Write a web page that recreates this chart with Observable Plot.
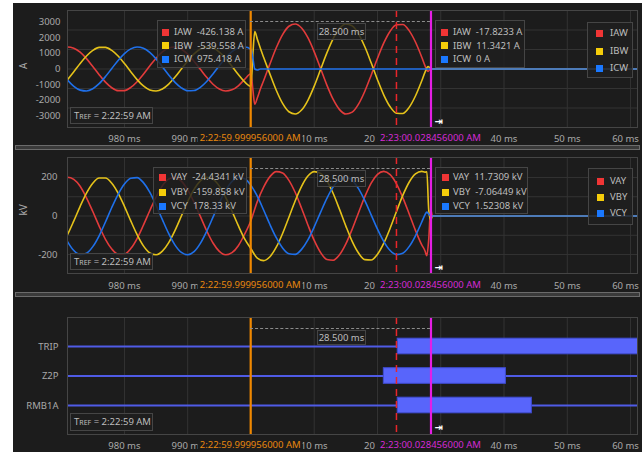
<!DOCTYPE html>
<html>
<head>
<meta charset="utf-8">
<script src="https://cdn.jsdelivr.net/npm/d3@7"></script>
<script src="https://cdn.jsdelivr.net/npm/@observablehq/plot@0.6"></script>
<style>
  html, body { margin:0; padding:0; background:#ffffff; }
  body { position:relative; width:642px; height:452px; overflow:hidden; font-family:"Noto Sans","Open Sans",sans-serif; }
  #bg { position:absolute; left:13px; top:3px; width:629px; height:449px; background:#1c1c1c; }
  .panel { position:absolute; left:13px; }
  .scroll { position:absolute; left:15px; width:623px; height:3px; border:1px solid #6b6b6b; background:#3a3a3a; }
  .box { position:absolute; box-sizing:border-box; border:1px solid #454545; background:rgba(30,30,30,0.82); color:#bdbdbd; font-size:9.5px; white-space:pre; }
  .row { position:absolute; line-height:12px; }
  .sq { position:absolute; width:7px; height:7px; }
  .cur { position:absolute; font-size:9.5px; line-height:13px; background:#1c1c1c; padding:0 2px; transform:translateX(-50%); white-space:nowrap; }
  .dots { position:absolute; height:0; border-top:1px dashed #8c8c8c; }
  .arrow { position:absolute; color:#fff; font-size:10px; font-family:"DejaVu Sans",sans-serif; line-height:10px; font-weight:bold; }
  .small { font-size:7px; }
</style>
</head>
<body>
<div id="bg"></div>
<script>
// ---------------- data ----------------
// time axis in ms relative to 2:23:00 (0 ms)
const tCur = [-30,-29,-28,-27,-26,-25,-24,-23,-22,-21,-20,-19,-18,-17,-16,-15,-14,-13,-12,-11,-10,-9,-8,-7,-6,-5,-4,-3,-2,-1,0,
  0.3,0.6,1,1.5,2,
  3,4,5,6,7,8,9,10,11,12,13,14,15,16,17,18,19,20,21,22,23,24,25,26,27,
  27.5,28,28.3,28.6,62];
const iaw = [1274,1398,1326,1068,659,158,-365,-837,-1191,-1378,-1372,-1173,-809,-332,192,689,1090,1337,1396,1259,946,499,-17,-531,-970,-1274,-1398,-1326,-1068,-659,-300,
  -1300,-2240,-1850,-1254,-748,
  325,1352,2190,2719,2866,2612,1989,1089,35,-1024,-1939,-2582,-2862,-2740,-2234,-1413,-394,680,1658,2404,2812,2826,2441,1715,748,
  215,-150,-20,0,0];
const ibw = [-1079,-674,-175,348,823,1182,1375,1375,1182,823,348,-175,-674,-1079,-1331,-1397,-1267,-959,-515,0,515,959,1267,1397,1331,1079,674,175,-348,-823,-1100,
  900,2380,1900,1300,748,
  -325,-1352,-2190,-2719,-2866,-2612,-1989,-1089,-35,1024,1939,2582,2862,2740,2234,1413,394,-680,-1658,-2404,-2812,-2826,-2441,-1715,-748,
  -215,150,80,0,0];
const icw = [-210,-704,-1100,-1342,-1395,-1252,-934,-483,34,547,983,1281,1399,1321,1057,644,141,-381,-850,-1200,-1381,-1368,-1163,-795,-315,210,704,1100,1342,1395,1252,
  700,0,-60,0,0,
  0,0,0,0,0,0,0,0,0,0,0,0,0,0,0,0,0,0,0,0,0,0,0,0,0,
  0,0,0,0,0];

const tVol = [-30,-29,-28,-27,-26,-25,-24,-23,-22,-21,-20,-19,-18,-17,-16,-15,-14,-13,-12,-11,-10,-9,-8,-7,-6,-5,-4,-3,-2,-1,0,
  1,2,3,4,5,6,7,8,9,10,11,12,13,14,15,16,17,18,19,20,21,22,23,24,25,26,27,
  27.5,27.8,28.1,28.4,28.7,62];
const vay = [182,200,189,153,94,23,-52,-120,-170,-197,-196,-168,-116,-47,27,98,156,191,199,180,135,71,-2,-76,-139,-182,-200,-189,-153,-94,-23,
  74,149,203,229,222,184,121,40,-46,-126,-188,-224,-228,-200,-144,-68,17,100,170,215,230,213,166,95,12,-74,-149,
  -179,-205,-120,35,0,0];
const vby = [-154,-96,-25,50,118,169,196,196,169,118,50,-25,-96,-154,-190,-200,-181,-137,-74,0,74,137,181,200,190,154,96,25,-50,-118,-169,
  -217,-230,-210,-161,-90,-6,79,153,206,229,220,181,116,34,-52,-131,-191,-225,-227,-197,-140,-63,23,106,174,217,230,
  226,228,30,-20,0,0];
const vcy = [-68,-132,-178,-199,-192,-158,-102,-31,44,112,165,195,198,172,123,56,-19,-91,-150,-188,-200,-184,-141,-79,-6,68,132,178,199,192,158,
  102,31,-44,-112,-165,-195,-198,-172,-123,-56,19,91,150,188,200,184,141,79,6,-68,-132,-178,-199,-192,-158,-102,-31,
  6,20,10,0,0,0];

const channels = ["TRIP", "Z2P", "RMB1A"];
const digOn  = [23.2, 21.0, 23.2];
const digOff = [62, 40.3, 44.4];

const xTicks = [-20,-10,0,10,20,30,40,50,60];
const xTickLabels = ["980 ms","990 ms","0 ms","10 ms","20 ms","30 ms","40 ms","50 ms","60 ms"];
const curTicks = [-3000,-2000,-1000,0,1000,2000,3000];
const volTicks = [-200,0,200];

const cursorA = -0.044, cursorB = 28.456, markerT = 23.0;
const cursorALabel = "2:22:59.999956000 AM";
const cursorBLabel = "2:23:00.028456000 AM";
const deltaLabel = "28.500 ms";
const trefTime = "2:22:59 AM";

const curNames = ["IAW","IBW","ICW"];
const curAtA = ["-426.138 A","-539.558 A","975.418 A"];
const curAtB = ["-17.8233 A","11.3421 A","0 A"];
const volNames = ["VAY","VBY","VCY"];
const volAtA = ["-24.4341 kV","-159.858 kV","178.33 kV"];
const volAtB = ["11.7309 kV","-7.06449 kV","1.52308 kV"];

// ---------------- styling ----------------
const FONT = '"Noto Sans","Open Sans",sans-serif';
const lineColors = ["#e23b3b", "#e5c21a", "#1f70ea"];
const sqColors = ["#f03535", "#f5cd0a", "#1a78ff"];
const ORANGE = "#f08800", MAGENTA = "#e41ee4", REDDASH = "#e8262a";
const GRID = "#333333", FRAME = "#454545", TEXT = "#a9a9a9";
const DIG = "#4f5be6", DIGFILL = "#5865fb", DIGSTROKE = "#3f4bd0";
const X_DOMAIN = [-29.0, 61.1];
const W = 629;

// tick labels that sit completely under a cursor time label are not drawn
const underCursor = t => Math.abs(t - cursorA) < 5 || Math.abs(t - cursorB) < 5;
const lastTick = xTicks[xTicks.length - 1];
const xTickRows = xTicks.map((t, i) => ({t, label: xTickLabels[i]})).filter(d => !underCursor(d.t));

function sixths([lo, hi]) { return d3.range(1, 6).map(k => lo + k * (hi - lo) / 6); }
function rows(ts, vals, name) { return ts.map((t, i) => ({t, v: vals[i], s: name})); }

function cursorMarks() {
  return [
    Plot.ruleX([markerT], {stroke: REDDASH, strokeWidth: 1.5, strokeDasharray: "7,5"}),
    Plot.ruleX([cursorA], {stroke: ORANGE, strokeWidth: 2.2}),
    Plot.ruleX([cursorB], {stroke: MAGENTA, strokeWidth: 2.2})
  ];
}

function xLabels(dy) {
  const common = {x: "t", text: "label", frameAnchor: "bottom", lineAnchor: "middle", dy, fill: TEXT};
  return [
    Plot.text(xTickRows.filter(d => d.t !== lastTick), common),
    Plot.text(xTickRows.filter(d => d.t === lastTick), {...common, dx: -5})
  ];
}

function panel({height, marginTop, marginBottom, y, marks, labelDy}) {
  return Plot.plot({
    width: W, height, marginLeft: 54, marginRight: 5, marginTop, marginBottom,
    style: {background: "transparent", color: TEXT, fontSize: "9.5px", fontFamily: FONT, overflow: "visible"},
    x: {domain: X_DOMAIN, axis: null},
    y,
    marks: [
      Plot.ruleX(xTicks, {stroke: GRID}),
      ...marks,
      Plot.frame({stroke: FRAME}),
      ...xLabels(labelDy)
    ]
  });
}

function place(svg, top) {
  const d = document.createElement("div");
  d.className = "panel"; d.style.top = top + "px";
  d.appendChild(svg); document.body.appendChild(d);
}

// ---------------- top panel: currents ----------------
const curDomain = [-3720, 3720];
const topPlot = panel({
  height: 142, marginTop: 7, marginBottom: 18, labelDy: 11,
  y: {domain: curDomain, ticks: curTicks, tickFormat: d => String(d), tickSize: 0, tickPadding: 7, label: null},
  marks: [
    Plot.ruleY(sixths(curDomain), {stroke: GRID}),
    Plot.line(rows(tCur, iaw, "IAW"), {x: "t", y: "v", stroke: lineColors[0], strokeWidth: 1.6, curve: "monotone-x", clip: true}),
    Plot.line(rows(tCur, ibw, "IBW"), {x: "t", y: "v", stroke: lineColors[1], strokeWidth: 1.6, curve: "monotone-x", clip: true}),
    Plot.line(rows(tCur, icw, "ICW"), {x: "t", y: "v", stroke: lineColors[2], strokeWidth: 1.6, curve: "monotone-x", clip: true}),
    ...cursorMarks(),
    Plot.text(["A"], {frameAnchor: "left", dx: -44, rotate: -90, text: d => d, fill: TEXT, fontSize: 10})
  ]
});
place(topPlot, 3);

// ---------------- middle panel: voltages ----------------
const volDomain = [-296.4, 301.6];
const midPlot = panel({
  height: 142, marginTop: 7, marginBottom: 19, labelDy: 12,
  y: {domain: volDomain, ticks: volTicks, tickFormat: d => String(d), tickSize: 0, tickPadding: 10, label: null},
  marks: [
    Plot.ruleY(sixths([-298, 298]), {stroke: GRID}),
    Plot.line(rows(tVol, vay, "VAY"), {x: "t", y: "v", stroke: lineColors[0], strokeWidth: 1.6, curve: "monotone-x", clip: true}),
    Plot.line(rows(tVol, vby, "VBY"), {x: "t", y: "v", stroke: lineColors[1], strokeWidth: 1.6, curve: "monotone-x", clip: true}),
    Plot.line(rows(tVol, vcy, "VCY"), {x: "t", y: "v", stroke: lineColors[2], strokeWidth: 1.6, curve: "monotone-x", clip: true}),
    ...cursorMarks(),
    Plot.text(["kV"], {frameAnchor: "left", dx: -44, rotate: -90, text: d => d, fill: TEXT, fontSize: 10})
  ]
});
place(midPlot, 150);

// ---------------- bottom panel: digital channels ----------------
const chIdx = channels.map((c, i) => i);
const digRows = channels.map((c, i) => ({i, name: c, on: digOn[i], off: digOff[i]}));
const botPlot = panel({
  height: 155, marginTop: 20, marginBottom: 18, labelDy: 11,
  y: {domain: [2.983, -0.983], ticks: chIdx, tickFormat: i => channels[i], tickSize: 0, tickPadding: 9, label: null},
  marks: [
    Plot.ruleY(chIdx, {stroke: DIG, strokeWidth: 2}),
    Plot.rect(digRows, {x1: "on", x2: "off", y1: d => d.i - 0.265, y2: d => d.i + 0.265, fill: DIGFILL, stroke: DIGSTROKE, clip: true}),
    ...cursorMarks()
  ]
});
place(botPlot, 297);

// ---------------- scroll bars ----------------
[145, 292].forEach(y => {
  const s = document.createElement("div"); s.className = "scroll"; s.style.top = y + "px";
  document.body.appendChild(s);
});

// ---------------- overlays ----------------
const xs = t => 13 + topPlot.scale("x").apply(t);
const xA = xs(cursorA), xB = xs(cursorB);

function el(cls, parent) {
  const d = document.createElement("div"); d.className = cls;
  (parent || document.body).appendChild(d); return d;
}
function box(left, top, width, height) {
  const b = el("box");
  Object.assign(b.style, {left: left + "px", top: top + "px", width: width + "px", height: height + "px"});
  return b;
}
function legend(left, top, width, height, centers, sqX, txtX, texts) {
  const b = box(left, top, width, height);
  centers.forEach((c, i) => {
    const sq = el("sq", b);
    Object.assign(sq.style, {left: sqX + "px", top: (c - 4.5) + "px", background: sqColors[i]});
    const r = el("row", b);
    Object.assign(r.style, {left: txtX + "px", top: (c - 7) + "px"});
    r.textContent = texts[i];
  });
}
function tref(top, height) {
  const b = box(70, top, 83, height);
  b.style.lineHeight = (height - 2) + "px";
  b.style.paddingLeft = "3px";
  b.innerHTML = 'T<span class="small">REF</span> = ' + trefTime;
}
function delta(lineY, top, height) {
  const d = el("dots");
  Object.assign(d.style, {left: xA + "px", top: lineY + "px", width: (xB - xA) + "px"});
  const b = box(317, top, 49, height);
  b.style.lineHeight = (height - 2) + "px";
  b.style.textAlign = "center";
  b.textContent = deltaLabel;
}
function cursorLabels(cy) {
  const a = el("cur"); a.textContent = cursorALabel;
  Object.assign(a.style, {left: xA + "px", top: (cy - 7) + "px", color: "#e8870e"});
  const b = el("cur"); b.textContent = cursorBLabel;
  Object.assign(b.style, {left: xB + "px", top: (cy - 7) + "px", color: "#d42ad4"});
}
function arrow(y) {
  const a = el("arrow"); a.textContent = "\u21E5";
  Object.assign(a.style, {left: (xB + 4) + "px", top: (y - 5) + "px"});
}

// top
legend(157, 20, 89, 48, [12, 25.5, 39], 4, 16, curNames.map((n, i) => n + "  " + curAtA[i]));
legend(435, 20, 90, 48, [12, 25.5, 39], 5, 17, curNames.map((n, i) => n + "  " + curAtB[i]));
legend(587, 22, 46, 56, [11, 29, 46], 8, 22, curNames);
tref(107, 17);
delta(21, 23, 17);
cursorLabels(138);
arrow(122);

// middle
legend(153, 167, 94, 47, [10, 25, 39], 5, 17, volNames.map((n, i) => n + "  " + volAtA[i]));
legend(435, 167, 93, 47, [10, 25, 39], 6, 17, volNames.map((n, i) => n + "  " + volAtB[i]));
legend(588, 168, 45, 57, [13, 29, 45], 8, 21, volNames);
tref(253, 17);
delta(168, 170, 17);
cursorLabels(285);
arrow(268);

// bottom
tref(413, 18);
delta(328, 330, 15);
cursorLabels(445);
arrow(428);
</script>
</body>
</html>
